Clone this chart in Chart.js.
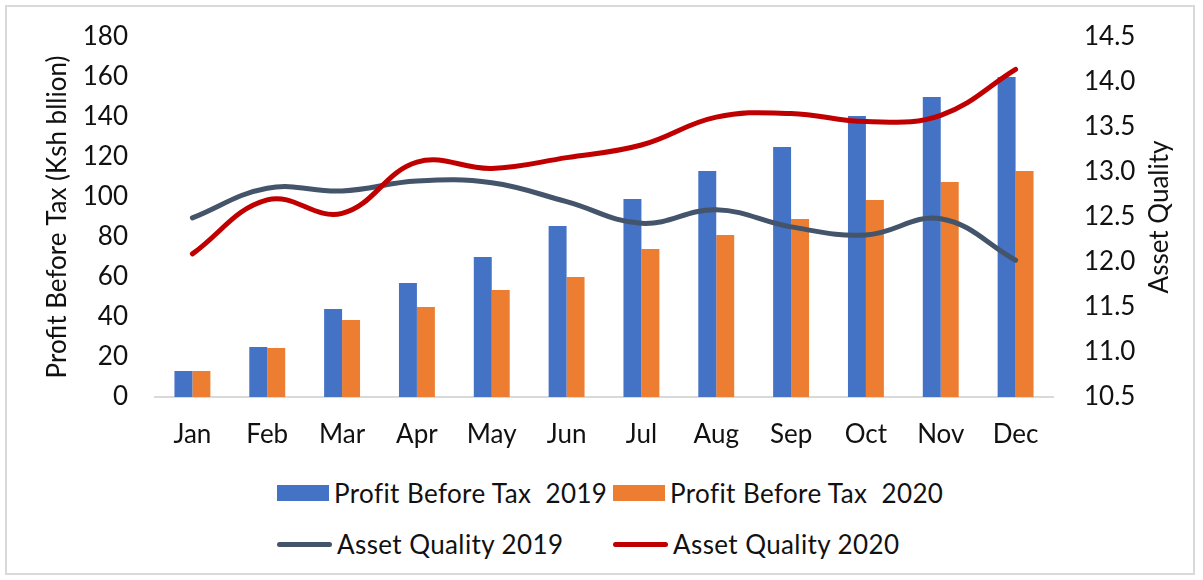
<!DOCTYPE html>
<html>
<head>
<meta charset="utf-8">
<script src="https://cdn.jsdelivr.net/npm/chart.js@4.4.1/dist/chart.umd.min.js"></script>
<style>
  html, body { margin: 0; padding: 0; background: #fff; }
  #wrap { position: relative; width: 1203px; height: 580px; background: #fff; font-family: Lato, "Noto Sans", sans-serif; }
  #frame { position: absolute; left: 5px; top: 5px; width: 1190px; height: 570px; border: 2px solid #d9d9d9; box-sizing: border-box; }
  #plot { position: absolute; left: 0; top: 0; width: 1203px; height: 470px; }
  #legend { position: absolute; left: 277px; top: 477px; display: grid; grid-template-columns: 336px auto; row-gap: 19px; }
  .item { display: flex; align-items: center; height: 32px; font-size: 26px; letter-spacing: 0.4px; color: #111; white-space: pre; }
  .swatch { flex: none; margin-right: 5px; }
</style>
</head>
<body>
<div id="wrap">
  <div id="frame"></div>
  <div id="plot"><canvas id="salesChart"></canvas></div>
  <div id="legend"></div>
</div>
<script>
const months = ['Jan', 'Feb', 'Mar', 'Apr', 'May', 'Jun', 'Jul', 'Aug', 'Sep', 'Oct', 'Nov', 'Dec'];
const profit2019 = [13, 25, 44, 57, 70, 85.5, 99, 113, 125, 140.5, 150, 160];
const profit2020 = [13, 24.5, 38.5, 45, 53.5, 60, 74, 81, 89, 98.5, 107.5, 113];
const quality2019 = [12.49, 12.82, 12.79, 12.9, 12.88, 12.67, 12.43, 12.58, 12.39, 12.3, 12.48, 12.02];
const quality2020 = [12.09, 12.69, 12.54, 13.11, 13.04, 13.16, 13.3, 13.61, 13.65, 13.56, 13.63, 14.14];
const leftTicks = { min: 0, max: 180, step: 20 };
const rightTicks = { min: 10.5, max: 14.5, step: 0.5 };

const font = { family: 'Lato, "Noto Sans", sans-serif', size: 26 };
const textColor = '#111';

// Excel writes the right axis title bottom-to-top, Chart.js turns it the other way
const rightTitlePlugin = {
    id: 'rightTitle',
    afterDraw: function (chart) {
        const scale = chart.scales.y1;
        const c = chart.ctx;
        c.save();
        c.translate(1160, (chart.chartArea.top + chart.chartArea.bottom) / 2);
        c.rotate(-Math.PI / 2);
        c.font = font.size + 'px ' + font.family;
        c.fillStyle = textColor;
        c.textAlign = 'center';
        c.textBaseline = 'middle';
        c.fillText(scale.options.title.text, 0, 0);
        c.restore();
    }
};

// the tick padding would also push the plot down, so drop it after fit
function fitSide(width) {
    return function (scale) {
        scale.width = width;
        scale.paddingTop = 0;
        scale.paddingBottom = 0;
    };
}

const chart = new Chart(document.getElementById('salesChart').getContext('2d'), {
    data: {
        labels: months,
        datasets: [
            { type: 'bar', label: 'Profit Before Tax  2019', data: profit2019, backgroundColor: '#4472c4', yAxisID: 'y', order: 2 },
            { type: 'bar', label: 'Profit Before Tax  2020', data: profit2020, backgroundColor: '#ed7d31', yAxisID: 'y', order: 2 },
            { type: 'line', label: 'Asset Quality 2019', data: quality2019, borderColor: '#44546a', yAxisID: 'y1', order: 1 },
            { type: 'line', label: 'Asset Quality 2020', data: quality2020, borderColor: '#c00000', yAxisID: 'y1', order: 0 }
        ]
    },
    options: {
        responsive: true,
        maintainAspectRatio: false,
        animation: false,
        devicePixelRatio: 1,
        layout: { padding: { top: 37, left: 0, right: 0, bottom: 0 } },
        datasets: {
            bar: { categoryPercentage: 0.48, barPercentage: 1.0 },
            line: { borderWidth: 5, tension: 0.4, pointRadius: 0, borderCapStyle: 'round', fill: false }
        },
        scales: {
            x: {
                grid: { display: false, drawTicks: false },
                border: { display: true, color: '#d9d9d9', width: 2 },
                ticks: { font: font, color: textColor, padding: 22, maxRotation: 0 },
                afterFit: function (scale) { scale.height = 73; }
            },
            y: {
                position: 'left',
                min: leftTicks.min,
                max: leftTicks.max,
                grid: { display: false, drawTicks: false },
                border: { display: false },
                ticks: { stepSize: leftTicks.step, font: font, color: textColor, padding: 27 },
                title: { display: true, text: 'Profit Before Tax (Ksh bllion)', font: font, color: textColor, padding: { top: 42, bottom: 0 } },
                afterFit: fitSide(155)
            },
            y1: {
                position: 'right',
                min: rightTicks.min,
                max: rightTicks.max,
                grid: { display: false, drawTicks: false },
                border: { display: false },
                ticks: {
                    stepSize: rightTicks.step, font: font, color: textColor, padding: 31,
                    callback: function (v) { return Number(v).toFixed(1); }
                },
                title: { display: false, text: 'Asset Quality', font: font, color: textColor },
                afterFit: fitSide(150)
            }
        },
        plugins: {
            legend: { display: false },
            tooltip: { enabled: false }
        }
    },
    plugins: [rightTitlePlugin]
});

// legend in two rows, columns aligned like the original
const legendBox = document.getElementById('legend');
chart.data.datasets.forEach(function (ds) {
    const item = document.createElement('div');
    item.className = 'item';
    const sw = document.createElement('span');
    sw.className = 'swatch';
    if (ds.type === 'bar') {
        sw.style.cssText = 'width:52px;height:16px;background:' + ds.backgroundColor;
    } else {
        sw.style.cssText = 'width:55px;height:5px;border-radius:3px;background:' + ds.borderColor;
    }
    item.appendChild(sw);
    item.appendChild(document.createTextNode(ds.label));
    legendBox.appendChild(item);
});
</script>
</body>
</html>
